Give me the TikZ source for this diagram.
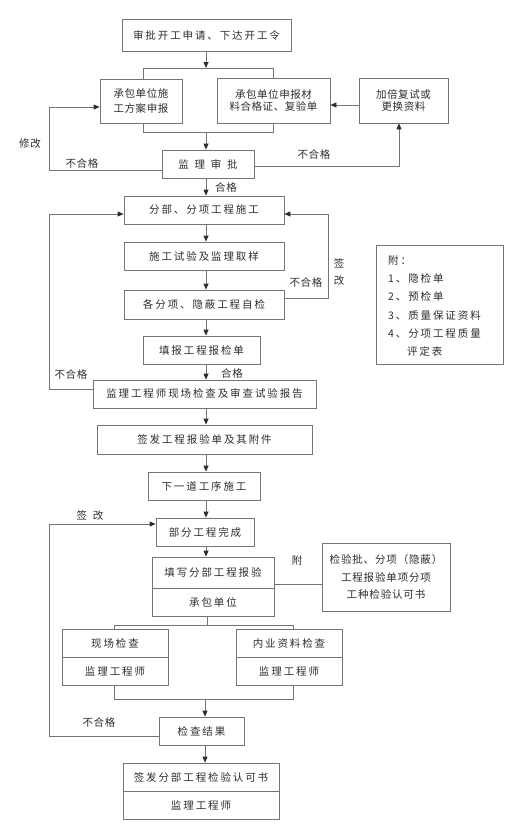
\documentclass[tikz,border=0pt]{standalone}
\usepackage{fontspec}
\setmainfont{Noto Sans CJK SC}
\newfontfamily\fA[LetterSpace=18]{Noto Sans CJK SC}
\newfontfamily\fB[LetterSpace=5]{Noto Sans CJK SC}
\newfontfamily\fC[LetterSpace=55]{Noto Sans CJK SC}
\newfontfamily\fD[LetterSpace=8]{Noto Sans CJK SC}
\usetikzlibrary{arrows.meta}
\definecolor{lc}{HTML}{747474}
\definecolor{tc}{HTML}{2E2E2E}
\begin{document}
\begin{tikzpicture}[x=1pt,y=-1pt,
  box/.style={draw=lc, line width=0.8pt, inner sep=0pt, text=tc, align=center,
    font=\fA\fontsize{10.5}{13}\selectfont},
  lbl/.style={inner sep=0pt, text=tc, font=\fB\fontsize{10.5}{13}\selectfont},
  ln/.style={draw=lc, line width=0.8pt},
  arr/.style={ln, -{Triangle[width=5pt,length=6pt,color=tc]}}]
\fill[white] (0,0) rectangle (521,835);
\useasboundingbox (0,0) rectangle (521,835);

% ---------- top part ----------
\node[box, minimum width=169pt, minimum height=32pt] (n1) at (206.5,35) {审批开工申请、下达开工令};
\node[box, font=\fB\fontsize{10.5}{15.5}\selectfont, minimum width=82pt, minimum height=44pt] (n2) at (141,101) {承包单位施\\工方案申报};
\node[box, font=\fB\fontsize{10.5}{12.5}\selectfont, minimum width=113pt, minimum height=45pt] (n3) at (273.5,100.5) {承包单位申报材\\料合格证、复验单};
\node[box, font=\fB\fontsize{10.5}{12.5}\selectfont, minimum width=89pt, minimum height=45pt] (n4) at (403.5,100.5) {加倍复试或\\更换资料};
\node[box, font=\fC\fontsize{10.5}{13}\selectfont, minimum width=92pt, minimum height=28pt] (n5) at (208,164) {监理审批};

\coordinate (bt) at (206,68);
\coordinate (btL) at (143,68);
\coordinate (btR) at (273,68);
\coordinate (bb) at (206,132);
\coordinate (bbL) at (143,132);
\coordinate (bbR) at (273,132);
\draw[arr] (n1.south -| bt) -- (bt);
\draw[ln] (btL |- n2.north) -- (btL) -- (btR) -- (btR |- n3.north);
\draw[ln] (bbL |- n2.south) -- (bbL) -- (bbR) -- (bbR |- n3.south);
\draw[arr] (bb) -- (bb |- n5.north);

\coordinate (L1) at (49,170);
\draw[arr] (n5.west |- L1) -- (L1) |- ([yshift=-6pt]n2.west);
\coordinate (R1) at (399,166);
\draw[arr] (n5.east |- R1) -- (R1) -- (R1 |- n4.south);
\draw[arr] ([yshift=-4.5pt]n4.west) -- ([yshift=-4.5pt]n3.east);

\node[lbl] (t1) at (30,144) {修改};
\node[lbl] (t2) at (82,163) {不合格};
\node[lbl] (t3) at (314,154) {不合格};
\node[lbl] (t4) at (226,187) {合格};

% ---------- middle part ----------
\node[box, minimum width=160pt, minimum height=28pt] (n6) at (204,210) {分部、分项工程施工};
\node[box, minimum width=160pt, minimum height=28pt] (n7) at (204,256) {施工试验及监理取样};
\node[box, minimum width=160pt, minimum height=29pt] (n8) at (204,304.5) {各分项、隐蔽工程自检};
\node[box, minimum width=117pt, minimum height=28pt] (n9) at (201.5,350) {填报工程报检单};
\node[box, minimum width=223pt, minimum height=28pt] (n10) at (204.5,394) {监理工程师现场检查及审查试验报告};

\coordinate (ax) at (206,0);
\draw[arr] (n5.south -| ax) -- (n6.north -| ax);
\draw[arr] (n6.south -| ax) -- (n7.north -| ax);
\draw[arr] (n7.south -| ax) -- (n8.north -| ax);
\draw[arr] (n8.south -| ax) -- (n9.north -| ax);
\draw[arr] (n9.south -| ax) -- (n10.north -| ax);

\coordinate (R2) at (328,298);
\draw[arr] (n8.east |- R2) -- (R2) |- ([yshift=-4pt]n6.east);
\coordinate (L2) at (49,389);
\draw[arr] (n10.west |- L2) -- (L2) |- ([yshift=-4pt]n6.west);

\node[lbl, align=center, font=\fB\fontsize{10.5}{17}\selectfont] (t5) at (339,272.5) {签\\改};
\node[lbl] (t6) at (306,282) {不合格};
\node[lbl] (t7) at (71,374) {不合格};
\node[lbl] (t8) at (232,373) {合格};

\node[box, minimum width=127pt, minimum height=119pt] (apx) at (439.5,304.5) {};
\node[inner sep=0pt, text=tc, anchor=west, align=left, font=\fA\fontsize{10.5}{18.3}\selectfont] (apxt) at (388,306) {附：\\1、隐检单\\2、预检单\\3、质量保证资料\\4、分项工程质量\\\hspace*{19pt}评定表};

% ---------- lower part ----------
\node[box, minimum width=215pt, minimum height=29pt] (n11) at (204.5,439.5) {签发工程报验单及其附件};
\node[box, minimum width=112pt, minimum height=28pt] (n12) at (204,486) {下一道工序施工};
\node[box, minimum width=98pt, minimum height=28pt] (n13) at (205,532) {部分工程完成};
\node[box, minimum width=122pt, minimum height=31pt] (n14a) at (213,572.5) {填写分部工程报验};
\node[box, minimum width=122pt, minimum height=28pt, anchor=north] (n14b) at (n14a.south) {承包单位};
\node[box, font=\fD\fontsize{10.5}{17.5}\selectfont, minimum width=128pt, minimum height=68pt] (n15) at (386,577) {检验批、分项（隐蔽）\\工程报验单项分项\\工种检验认可书};

\draw[arr] (n10.south -| ax) -- (n11.north -| ax);
\draw[arr] (n11.south -| ax) -- (n12.north -| ax);
\draw[arr] (n12.south -| ax) -- (n13.north -| ax);
\draw[arr] (n13.south -| ax) -- (n14a.north -| ax);
\draw[ln] ([yshift=-11.5pt]n14a.east) -- ([yshift=-7pt]n15.west);
\node[lbl] (t9) at (297,561) {附};

\node[box, minimum width=106pt, minimum height=28pt] (n16a) at (115,643) {现场检查};
\node[box, minimum width=106pt, minimum height=28pt, anchor=north] (n16b) at (n16a.south) {监理工程师};
\node[box, minimum width=106pt, minimum height=28pt] (n17a) at (289,643) {内业资料检查};
\node[box, minimum width=106pt, minimum height=28pt, anchor=north] (n17b) at (n17a.south) {监理工程师};

\coordinate (c1) at (207,625);
\coordinate (c1L) at (114,625);
\coordinate (c1R) at (293,625);
\draw[ln] (n14b.south -| c1) -- (c1);
\draw[ln] (c1L |- n16a.north) -- (c1L) -- (c1R) -- (c1R |- n17a.north);

\node[box, minimum width=85pt, minimum height=28pt] (n18) at (201.5,731) {检查结果};
\coordinate (c2) at (205,699);
\coordinate (c2L) at (114,699);
\coordinate (c2R) at (293,699);
\draw[ln] (c2L |- n16b.south) -- (c2L) -- (c2R) -- (c2R |- n17b.south);
\draw[arr] (c2) -- (c2 |- n18.north);

\node[box, minimum width=156pt, minimum height=28pt] (n19a) at (201,777) {签发分部工程检验认可书};
\node[box, minimum width=156pt, minimum height=28pt, anchor=north] (n19b) at (n19a.south) {监理工程师};
\draw[arr] (n18.south -| c2) -- (n19a.north -| c2);

\coordinate (L3) at (49,736);
\draw[arr] (n18.west |- L3) -- (L3) |- ([yshift=8pt]n13.west);
\node[lbl, font=\fC\fontsize{10.5}{13}\selectfont] (t10) at (90,515) {签改};
\node[lbl] (t11) at (99,722) {不合格};
\end{tikzpicture}
\end{document}
